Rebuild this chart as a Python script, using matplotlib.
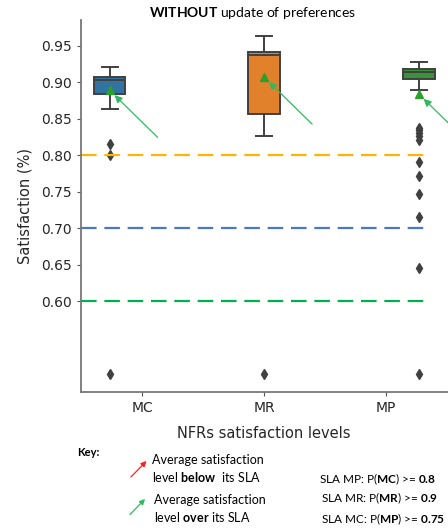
import matplotlib.pyplot as plt
import numpy as np

plt.rcParams['font.family'] = ['DejaVu Sans']
plt.rcParams['mathtext.fontset'] = 'custom'
plt.rcParams['mathtext.rm'] = 'Lato'
plt.rcParams['mathtext.bf'] = 'Lato:bold'

# box statistics per NFR
categories = ['MC', 'MR', 'MP']
whislo = [0.864, 0.827, 0.889]
q1 = [0.884, 0.857, 0.904]
med = [0.903, 0.937, 0.914]
q3 = [0.907, 0.942, 0.918]
whishi = [0.921, 0.963, 0.928]
means = [0.889, 0.907, 0.884]
fliers_mc = [0.815, 0.800, 0.500]
fliers_mr = [0.500]
fliers_mp = [0.838, 0.834, 0.830, 0.826, 0.821, 0.791, 0.772,
             0.747, 0.716, 0.646, 0.500]
box_colors = ['#3274a1', '#e1812c', '#3a923a']

# SLA thresholds
sla_levels = [0.80, 0.70, 0.60]
sla_colors = ['#ffb400', '#4a78c2', '#00b04f']

yticks = [0.60, 0.65, 0.70, 0.75, 0.80, 0.85, 0.90, 0.95]

fig = plt.figure(figsize=(4.48, 5.31), dpi=100)
ax = fig.add_axes([0.181, 0.2623, 0.817, 0.70])

# seaborn-like dodge (hue == category)
n = len(categories)
width = 0.8 / n
positions = np.arange(n) + (np.arange(n) - (n - 1) / 2) * width

stats = []
for i, fl in enumerate([fliers_mc, fliers_mr, fliers_mp]):
    stats.append(dict(
        label=categories[i], whislo=whislo[i], q1=q1[i], med=med[i],
        q3=q3[i], whishi=whishi[i], mean=means[i], fliers=fl,
    ))

line_c = '#404040'
bp = ax.bxp(
    stats, positions=positions, widths=width * 0.98,
    patch_artist=True, showmeans=True, manage_ticks=False,
    boxprops=dict(edgecolor=line_c, linewidth=1.4),
    medianprops=dict(color=line_c, linewidth=1.4),
    whiskerprops=dict(color=line_c, linewidth=1.4),
    capprops=dict(color=line_c, linewidth=1.4),
    flierprops=dict(marker='d', markerfacecolor=line_c,
                    markeredgecolor=line_c, markersize=5),
    meanprops=dict(marker='^', markerfacecolor='#2ca02c',
                   markeredgecolor='#2ca02c', markersize=6),
)
for patch, c in zip(bp['boxes'], box_colors):
    patch.set_facecolor(c)

# SLA lines
for lvl, c in zip(sla_levels, sla_colors):
    ax.axhline(lvl, xmax=0.945, color=c, linewidth=1.6,
               linestyle=(0, (7, 3.5)))

# arrows pointing at the means
arrow_c = '#2dbb5e'
for p, m in zip(positions, means):
    ax.annotate(
        '', xy=(p, m), xytext=(48, -47), textcoords='offset pixels',
        arrowprops=dict(arrowstyle='-|>', color=arrow_c, lw=0.9,
                        mutation_scale=11, shrinkA=0, shrinkB=5),
        annotation_clip=False,
    )

ax.set_xlim(-0.5, 2.5)
ax.set_ylim(0.4762, 0.9852)
ax.set_xticks(np.arange(n))
ax.set_xticklabels(categories, fontsize=10)
ax.set_yticks(yticks)
ax.set_yticklabels(['%.2f' % t for t in yticks], fontsize=10)
ax.tick_params(length=3, color='#555555', labelcolor='#262626')
ax.spines['top'].set_visible(False)
ax.spines['right'].set_visible(False)
for s in ['left', 'bottom']:
    ax.spines[s].set_color('#777777')
    ax.spines[s].set_linewidth(1.3)

ax.set_ylabel('Satisfaction (%)', fontsize=10.5, color='#262626', labelpad=6)
ax.set_xlabel('NFRs satisfaction levels', fontsize=10.5, color='#262626',
              labelpad=8)

fig.text(253 / 448, 1 - 13 / 531,
         r'$\mathbf{WITHOUT}$ update of preferences',
         ha='center', va='center', fontsize=10, family='Lato')

# key
fig.text(77 / 448, 1 - 452 / 531, 'Key:', fontsize=8,
         fontweight='bold', family='Lato', va='center')

fig.patches.append(plt.matplotlib.patches.FancyArrowPatch(
    (129, 52), (148.5, 72), transform=None, arrowstyle='-|>',
    mutation_scale=8, color='#ff2020', lw=0.9))
fig.patches.append(plt.matplotlib.patches.FancyArrowPatch(
    (128, 14.5), (147, 34), transform=None, arrowstyle='-|>',
    mutation_scale=8, color=arrow_c, lw=0.9))

fig.text(152 / 448, 1 - 469 / 531,
         'Average satisfaction\nlevel $\\mathbf{below}$  its SLA',
         fontsize=9, family='Lato', va='center', linespacing=1.25)
fig.text(154 / 448, 1 - 509 / 531,
         'Average satisfaction\nlevel $\\mathbf{over}$ its SLA',
         fontsize=9, family='Lato', va='center', linespacing=1.25)

sla_text = [
    (319, 479, r'SLA MP: P($\mathbf{MC}$) >= $\mathbf{0.8}$'),
    (321, 498.5, r'SLA MR: P($\mathbf{MR}$) >= $\mathbf{0.9}$'),
    (321, 519, r'SLA MC: P($\mathbf{MP}$) >= $\mathbf{0.75}$'),
]
for x, y, t in sla_text:
    fig.text(x / 448, 1 - y / 531, t, fontsize=8.5, family='Lato',
             va='center')

fig.savefig('out.png', dpi=100)
